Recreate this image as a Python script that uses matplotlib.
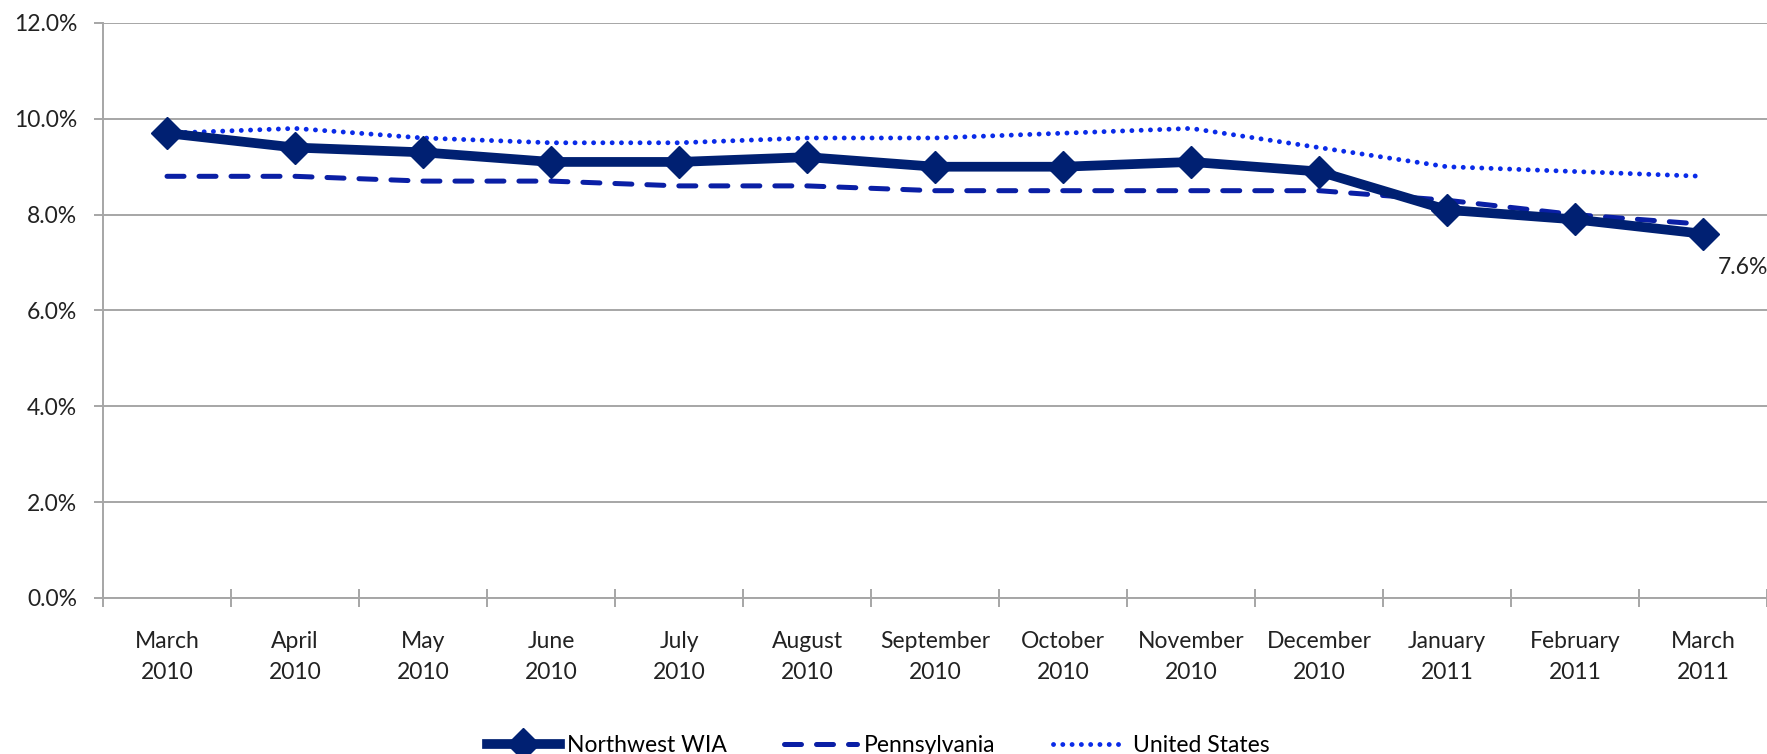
import matplotlib.pyplot as plt
from matplotlib.ticker import FuncFormatter, MultipleLocator
import numpy as np

plt.rcParams['font.family'] = ['Lato', 'DejaVu Sans']

months = ["March\n2010", "April\n2010", "May\n2010", "June\n2010", "July\n2010",
          "August\n2010", "September\n2010", "October\n2010", "November\n2010",
          "December\n2010", "January\n2011", "February\n2011", "March\n2011"]

northwest = [9.7, 9.4, 9.3, 9.1, 9.1, 9.2, 9.0, 9.0, 9.1, 8.9, 8.1, 7.9, 7.6]
pennsylvania = [8.8, 8.8, 8.7, 8.7, 8.6, 8.6, 8.5, 8.5, 8.5, 8.5, 8.3, 8.0, 7.8]
united_states = [9.7, 9.8, 9.6, 9.5, 9.5, 9.6, 9.6, 9.7, 9.8, 9.4, 9.0, 8.9, 8.8]

x = np.arange(len(months))

fig = plt.figure(figsize=(17.67, 7.54), dpi=100)
ax = fig.add_axes([0.0583, 0.207, 0.9417, 0.7625])

grey = "#a6a6a6"
txt = "#222222"
fs = 16.5

ax.plot(x, northwest, color="#002072", lw=7, marker="D", markersize=16.5,
        label="Northwest WIA", zorder=4)
ax.plot(x, pennsylvania, color="#0a1fa5", lw=3.6, linestyle=(0, (3.4, 3.0)),
        dash_capstyle="round", label="Pennsylvania", zorder=3)
ax.plot(x, united_states, color="#0a2be8", lw=3.5, linestyle=(0, (0.01, 1.9)),
        dash_capstyle="round", label="United States", zorder=3)

ax.annotate("7.6%", (x[-1], northwest[-1]), xytext=(29, -24),
            textcoords="offset points", ha="center", va="center",
            fontsize=fs, color=txt)

ax.set_xlim(-0.5, len(months) - 0.5)
ax.set_ylim(0, 12)
ax.yaxis.set_major_locator(MultipleLocator(2))
ax.yaxis.set_major_formatter(FuncFormatter(lambda v, p: f"{v:.1f}%"))
ax.grid(axis="y", color=grey, lw=1.4)
ax.set_axisbelow(True)

ax.set_xticks(x)
ax.set_xticklabels(months, linespacing=1.6)
ax.set_xticks(np.arange(len(months) + 1) - 0.5, minor=True)
ax.tick_params(axis="x", which="major", length=0, pad=24, labelsize=fs,
               labelcolor=txt)
ax.tick_params(axis="x", which="minor", direction="inout", length=13,
               width=1.4, color=grey)
ax.tick_params(axis="y", direction="out", length=6.5, width=1.4, color=grey,
               labelsize=fs, labelcolor=txt, pad=12)

for side in ["top", "right"]:
    ax.spines[side].set_visible(False)
for side in ["left", "bottom"]:
    ax.spines[side].set_color(grey)
    ax.spines[side].set_linewidth(1.4)

fig.legend(loc="lower center", bbox_to_anchor=(0.497, -0.03), ncol=3,
           frameon=False, fontsize=fs, handlelength=3.2, columnspacing=2.5,
           handletextpad=0.3)

fig.savefig("out.png", dpi=100)
